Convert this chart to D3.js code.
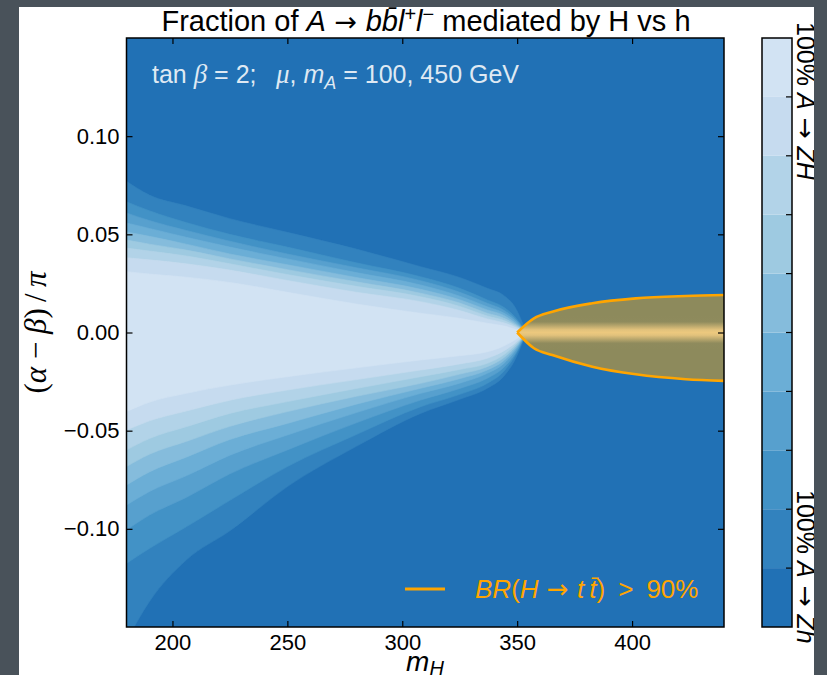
<!DOCTYPE html>
<html><head><meta charset="utf-8">
<script src="https://cdn.jsdelivr.net/npm/d3@7"></script>
<style>body{margin:0;background:#fff}svg{display:block}</style>
</head><body>
<script>
// ---------------- data ----------------
const mHGrid = [180, 190, 206, 225, 250, 280, 308, 325, 337, 344, 349, 354];
// contour boundaries, outermost (level 1) to innermost (level 9): upper side
const upper1 = [0.077, 0.070, 0.0645, 0.058, 0.051, 0.0425, 0.0335, 0.028, 0.0225, 0.019, 0.013, 0];
const upper2 = [0.0666, 0.062, 0.056, 0.050, 0.0435, 0.0355, 0.0284, 0.0225, 0.0166, 0.013, 0.008, 0];
const upper3 = [0.0609, 0.057, 0.052, 0.0465, 0.040, 0.0330, 0.0264, 0.0205, 0.0149, 0.0115, 0.007, 0];
const upper4 = [0.0558, 0.053, 0.0485, 0.0435, 0.0375, 0.0305, 0.0242, 0.0185, 0.0131, 0.010, 0.006, 0];
const upper5 = [0.0512, 0.049, 0.045, 0.040, 0.0345, 0.028, 0.022, 0.0167, 0.0115, 0.0088, 0.005, 0];
const upper6 = [0.0471, 0.045, 0.042, 0.0375, 0.032, 0.0258, 0.020, 0.0150, 0.0098, 0.0074, 0.0042, 0];
const upper7 = [0.0430, 0.0415, 0.039, 0.035, 0.0295, 0.0235, 0.0182, 0.0133, 0.0084, 0.0062, 0.0035, 0];
const upper8 = [0.0381, 0.037, 0.035, 0.0318, 0.0265, 0.0205, 0.0157, 0.0112, 0.0069, 0.0050, 0.0028, 0];
const upper9 = [0.0310, 0.0298, 0.0282, 0.0255, 0.0205, 0.0145, 0.0098, 0.0072, 0.0047, 0.0034, 0.0018, 0];
// lower side
const lower1 = [-0.157, -0.137, -0.1159, -0.101, -0.0785, -0.058, -0.0412, -0.034, -0.0284, -0.0225, -0.014, 0];
const lower2 = [-0.1176, -0.110, -0.099, -0.0855, -0.0683, -0.052, -0.0378, -0.0315, -0.0259, -0.020, -0.012, 0];
const lower3 = [-0.1006, -0.0930, -0.0840, -0.0720, -0.0598, -0.0460, -0.0344, -0.0285, -0.0233, -0.018, -0.011, 0];
const lower4 = [-0.0879, -0.0810, -0.0730, -0.0625, -0.0522, -0.0408, -0.031, -0.0258, -0.0208, -0.016, -0.0095, 0];
const lower5 = [-0.0777, -0.0710, -0.0635, -0.0545, -0.0463, -0.0365, -0.0284, -0.0235, -0.0191, -0.0145, -0.0085, 0];
const lower6 = [-0.0683, -0.0620, -0.0555, -0.0478, -0.0403, -0.0325, -0.0259, -0.0212, -0.0174, -0.013, -0.0075, 0];
const lower7 = [-0.0598, -0.0540, -0.0480, -0.0412, -0.0352, -0.0285, -0.0225, -0.0188, -0.0157, -0.0115, -0.0065, 0];
const lower8 = [-0.0497, -0.0450, -0.0400, -0.0345, -0.0293, -0.0240, -0.0191, -0.0160, -0.0131, -0.0095, -0.0055, 0];
const lower9 = [-0.0403, -0.0355, -0.0310, -0.0268, -0.0225, -0.018, -0.014, -0.0118, -0.0098, -0.007, -0.0038, 0];

// BR(H -> tt) > 90% region
const ttMH = [350, 357.3, 365.3, 382.7, 401.6, 423.4, 441];
const ttUpper = [0, 0.0072, 0.0106, 0.0149, 0.0174, 0.0186, 0.0191];
const ttLower = [0, -0.008, -0.0115, -0.0174, -0.0213, -0.0238, -0.0247];

const xTicks = [200, 250, 300, 350, 400];
const yTicks = [0.10, 0.05, 0.00, -0.05, -0.10];
const colorbarLevels = [0, 1, 2, 3, 4, 5, 6, 7, 8, 9, 10]; // 10 bands

// ---------------- layout / style ----------------
const W = 827, H = 675;
const plot = {l: 126.5, r: 724, t: 38, b: 627};
const cbar = {l: 762, r: 792};
const FONT = "'Liberation Sans', Arial, Helvetica, sans-serif";
const SERIF = "'Liberation Serif', 'DejaVu Serif', serif";
const ARROW = "'DejaVu Sans', sans-serif";
const ORANGE = "#ffa500";
const frameGray = "#49525a";

// band colours (darkest -> lightest), matplotlib "Blues" between 0.75 and 0.1875
const blues = d3.scaleLinear().domain(d3.range(9).map(i => i / 8))
  .range(["#f7fbff","#deebf7","#c6dbef","#9ecae1","#6baed6","#4292c6","#2171b5","#08519c","#08306b"]);
const bandColor = i => blues(0.75 - i * 0.0625); // i = 0 (darkest) .. 9 (lightest)

const upperAll = [upper1, upper2, upper3, upper4, upper5, upper6, upper7, upper8, upper9];
const lowerAll = [lower1, lower2, lower3, lower4, lower5, lower6, lower7, lower8, lower9];

const x = d3.scaleLinear().domain([180, 440]).range([plot.l, plot.r]);
const y = d3.scaleLinear().domain([-0.15, 0.15]).range([plot.b, plot.t]);

const svg = d3.select("body").append("svg").attr("width", W).attr("height", H)
  .style("font-family", FONT);

svg.append("rect").attr("width", W).attr("height", H).attr("fill", "#fff");

const defs = svg.append("defs");
defs.append("clipPath").attr("id", "clipPlot").append("rect")
  .attr("x", plot.l).attr("y", plot.t).attr("width", plot.r - plot.l).attr("height", plot.b - plot.t);

const grad = defs.append("linearGradient").attr("id", "ttGrad")
  .attr("gradientUnits", "userSpaceOnUse")
  .attr("x1", 0).attr("x2", 0).attr("y1", y(0.0085)).attr("y2", y(-0.0085));
[[0, "#8d8a5c"], [0.18, "#8f8b5d"], [0.42, "#e2c27c"], [0.5, "#ecc87e"], [0.58, "#e2c27c"], [0.82, "#8f8b5d"], [1, "#8d8a5c"]]
  .forEach(([o, c]) => grad.append("stop").attr("offset", o).attr("stop-color", c));

// ---------------- contour bands ----------------
const gPlot = svg.append("g").attr("clip-path", "url(#clipPlot)");
gPlot.append("rect").attr("x", plot.l).attr("y", plot.t)
  .attr("width", plot.r - plot.l).attr("height", plot.b - plot.t).attr("fill", bandColor(0));

const area = d3.area().curve(d3.curveMonotoneX)
  .x(d => x(d.m)).y0(d => y(d.lo)).y1(d => y(d.hi));

upperAll.forEach((up, k) => {
  const pts = mHGrid.map((m, i) => ({m, hi: up[i], lo: lowerAll[k][i]}));
  gPlot.append("path").datum(pts).attr("d", area).attr("fill", bandColor(k + 1))
    .attr("stroke", bandColor(k + 1)).attr("stroke-width", 0.6);
});

// tt region
const ttPts = ttMH.map((m, i) => ({m, hi: ttUpper[i], lo: ttLower[i]}));
const ttArea = d3.area().curve(d3.curveMonotoneX).x(d => x(d.m)).y0(d => y(d.lo)).y1(d => y(d.hi));
gPlot.append("path").datum(ttPts).attr("d", ttArea).attr("fill", "url(#ttGrad)");
const ttLineU = d3.line().curve(d3.curveMonotoneX).x(d => x(d.m)).y(d => y(d.hi));
const ttLineL = d3.line().curve(d3.curveMonotoneX).x(d => x(d.m)).y(d => y(d.lo));
gPlot.append("path").datum(ttPts).attr("d", ttLineU).attr("fill", "none").attr("stroke", ORANGE).attr("stroke-width", 2.6);
gPlot.append("path").datum(ttPts).attr("d", ttLineL).attr("fill", "none").attr("stroke", ORANGE).attr("stroke-width", 2.6);

// ---------------- axes ----------------
const fmt = d3.format(".2f");
const axB = svg.append("g").attr("transform", `translate(0,${plot.b})`)
  .call(d3.axisBottom(x).tickValues(xTicks).tickSize(-6).tickPadding(7).tickFormat(d3.format("d")));
const axT = svg.append("g").attr("transform", `translate(0,${plot.t})`)
  .call(d3.axisTop(x).tickValues(xTicks).tickSize(-6).tickFormat(""));
const axL = svg.append("g").attr("transform", `translate(${plot.l},0)`)
  .call(d3.axisLeft(y).tickValues(yTicks).tickSize(-6).tickPadding(7).tickFormat(fmt));
const axR = svg.append("g").attr("transform", `translate(${plot.r},0)`)
  .call(d3.axisRight(y).tickValues(yTicks).tickSize(-6).tickFormat(""));
[axB, axT, axL, axR].forEach(g => {
  g.select(".domain").remove();
  g.selectAll(".tick line").attr("stroke", "#000").attr("stroke-width", 1.2);
  g.selectAll("text").attr("font-family", FONT).attr("font-size", 22).attr("fill", "#000");
});

svg.append("rect").attr("x", plot.l).attr("y", plot.t)
  .attr("width", plot.r - plot.l).attr("height", plot.b - plot.t)
  .attr("fill", "none").attr("stroke", "#000").attr("stroke-width", 1.5);

// ---------------- rich text helper ----------------
function rich(sel, segs) {
  segs.forEach(s => {
    const t = sel.append("tspan").text(s.t);
    if (s.it) t.attr("font-style", "italic");
    if (s.fs) t.attr("font-size", s.fs);
    if (s.ff) t.attr("font-family", s.ff);
    if (s.dy) t.attr("dy", s.dy);
  });
  return sel;
}

// title
rich(svg.append("text").attr("x", 426).attr("y", 31).attr("text-anchor", "middle")
  .attr("font-size", 29).attr("fill", "#000"), [
  {t: "Fraction of "}, {t: "A", it: 1}, {t: " \u2192 ", ff: ARROW, fs: 27}, {t: "bb\u0304l", it: 1},
  {t: "+", fs: 20, dy: -10}, {t: "l", it: 1, dy: 10}, {t: "\u2212", fs: 20, dy: -10},
  {t: "  mediated by H vs h", dy: 10}
]);

// annotation
rich(svg.append("text").attr("x", 152).attr("y", 83).attr("font-size", 25).attr("fill", "#dfe9f3"), [
  {t: "tan "}, {t: "\u03b2", it: 1, ff: SERIF, fs: 27}, {t: " = 2;\u2002 "}, {t: "\u03bc", it: 1, ff: SERIF, fs: 27},
  {t: ", "}, {t: "m", it: 1}, {t: "A", it: 1, fs: 18, dy: 6}, {t: " = 100, 450 GeV", dy: -6}
]);

// legend
svg.append("line").attr("x1", 405).attr("x2", 445).attr("y1", 589).attr("y2", 589)
  .attr("stroke", ORANGE).attr("stroke-width", 3);
rich(svg.append("text").attr("x", 475).attr("y", 598).attr("font-size", 26).attr("fill", ORANGE), [
  {t: "BR", it: 1}, {t: "("}, {t: "H", it: 1}, {t: " \u2192 ", ff: ARROW, fs: 26}, {t: "t\u2009t\u0304", it: 1},
  {t: ")\u2002>\u200290%"}
]);

// axis labels
rich(svg.append("text").attr("x", 425).attr("y", 671).attr("text-anchor", "middle")
  .attr("font-size", 28).attr("fill", "#000"), [
  {t: "m", it: 1}, {t: "H", it: 1, fs: 20, dy: 4}
]);
rich(svg.append("text").attr("transform", `translate(46,${(plot.t + plot.b) / 2}) rotate(-90)`)
  .attr("text-anchor", "middle").attr("font-size", 31).attr("fill", "#000").attr("font-family", SERIF), [
  {t: "("}, {t: "\u03b1", it: 1}, {t: " \u2212 "}, {t: "\u03b2", it: 1}, {t: ")\u2009/\u2009"}, {t: "\u03c0", it: 1}
]);

// ---------------- colorbar ----------------
const yc = d3.scaleLinear().domain([0, 10]).range([plot.b, plot.t]);
const gC = svg.append("g");
d3.pairs(colorbarLevels).forEach(([a, b], i) => {
  gC.append("rect").attr("x", cbar.l).attr("width", cbar.r - cbar.l)
    .attr("y", yc(b)).attr("height", yc(a) - yc(b)).attr("fill", bandColor(i));
});
colorbarLevels.slice(1, -1).forEach(v => {
  gC.append("line").attr("x1", cbar.r - 6).attr("x2", cbar.r).attr("y1", yc(v)).attr("y2", yc(v))
    .attr("stroke", "#000").attr("stroke-width", 1.2);
});
gC.append("rect").attr("x", cbar.l).attr("y", plot.t).attr("width", cbar.r - cbar.l)
  .attr("height", plot.b - plot.t).attr("fill", "none").attr("stroke", "#000").attr("stroke-width", 1.5);

rich(svg.append("text").attr("transform", `translate(797,22) rotate(90)`)
  .attr("font-size", 25).attr("fill", "#000"), [
  {t: "100% "}, {t: "A", it: 1}, {t: " \u2192 ", ff: ARROW, fs: 25}, {t: "ZH", it: 1}
]);
rich(svg.append("text").attr("transform", `translate(797,490) rotate(90)`)
  .attr("font-size", 25).attr("fill", "#000"), [
  {t: "100% "}, {t: "A", it: 1}, {t: " \u2192 ", ff: ARROW, fs: 25}, {t: "Zh", it: 1}
]);

// ---------------- outer frame ----------------
svg.append("rect").attr("x", 0).attr("y", 0).attr("width", 19).attr("height", H).attr("fill", frameGray);
svg.append("rect").attr("x", 0).attr("y", 0).attr("width", W).attr("height", 7).attr("fill", frameGray);
svg.append("rect").attr("x", 814).attr("y", 0).attr("width", W - 814).attr("height", H).attr("fill", frameGray);
</script>
</body></html>
